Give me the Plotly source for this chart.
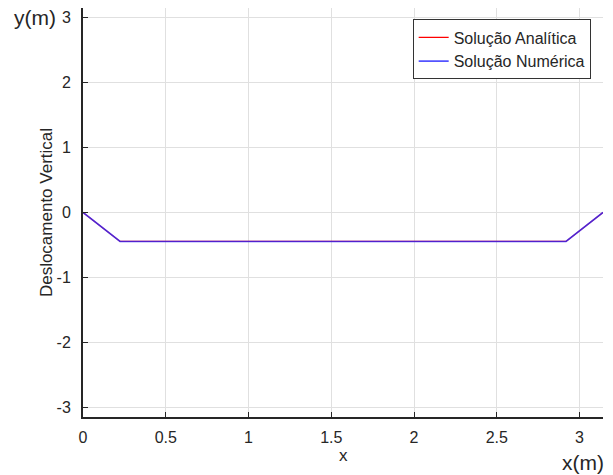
import math
import plotly.graph_objects as go

# Deflection profile: corner nodes of the beam solution
x_analitica = [0.0, 0.224, 2.918, math.pi]
y_analitica = [0.0, -0.445, -0.445, 0.0]
x_numerica = [0.0, 0.224, 2.918, math.pi]
y_numerica = [0.0, -0.445, -0.445, 0.0]

x_ticks = [0, 0.5, 1, 1.5, 2, 2.5, 3]
x_ticklabels = ["0", "0.5", "1", "1.5", "2", "2.5", "3"]
y_ticks = [-3, -2, -1, 0, 1, 2, 3]
y_ticklabels = ["-3", "-2", "-1", "0", "1", "2", "3"]

FONT = "Liberation Sans, Arial, sans-serif"
TXT = "#262626"

fig = go.Figure()
fig.add_trace(go.Scatter(
    x=x_analitica, y=y_analitica, mode="lines", name="Solução Analítica",
    line=dict(color="rgb(255,0,0)", width=1.2),
))
fig.add_trace(go.Scatter(
    x=x_numerica, y=y_numerica, mode="lines", name="Solução Numérica",
    line=dict(color="rgb(40,40,255)", width=1.6), opacity=0.8,
))

axis_common = dict(
    showgrid=True, gridcolor="#e0e0e0", gridwidth=1,
    showline=True, linecolor="#262626", linewidth=2,
    ticks="inside", ticklen=5, tickcolor="#262626", tickwidth=1,
    zeroline=False, tickfont=dict(family=FONT, size=16, color=TXT),
)

fig.update_layout(
    width=613, height=475,
    margin=dict(l=83, r=10, t=8, b=58),
    plot_bgcolor="white", paper_bgcolor="white",
    font=dict(family=FONT, size=16, color=TXT),
    xaxis=dict(range=[0, math.pi], tickvals=x_ticks, ticktext=x_ticklabels,
               ticklabelstandoff=5, **axis_common),
    yaxis=dict(range=[-math.pi, math.pi], tickvals=y_ticks, ticktext=y_ticklabels,
               ticklabelstandoff=7, **axis_common),
    showlegend=True,
    legend=dict(
        x=0.634, y=0.972, xanchor="left", yanchor="top",
        bgcolor="white", bordercolor="#333333", borderwidth=1,
        font=dict(family=FONT, size=16, color=TXT),
        itemwidth=30, tracegroupgap=0,
    ),
)

# Axis captions
fig.add_annotation(text="x", xref="paper", yref="paper", x=0.5, y=-0.095,
                   xanchor="center", yanchor="middle", showarrow=False,
                   font=dict(family=FONT, size=17, color=TXT))
fig.add_annotation(text="Deslocamento Vertical", xref="paper", yref="paper",
                   x=-0.07, y=0.5, xanchor="center", yanchor="middle",
                   textangle=-90, showarrow=False,
                   font=dict(family=FONT, size=17, color=TXT))
fig.add_annotation(text="y(m)", xref="paper", yref="paper", x=-0.137, y=0.976,
                   xanchor="left", yanchor="middle", showarrow=False,
                   font=dict(family=FONT, size=21, color=TXT))
fig.add_annotation(text="x(m)", xref="paper", yref="paper", x=1.006, y=-0.112,
                   xanchor="right", yanchor="middle", showarrow=False,
                   font=dict(family=FONT, size=21, color=TXT))

fig.write_html("out.html")
